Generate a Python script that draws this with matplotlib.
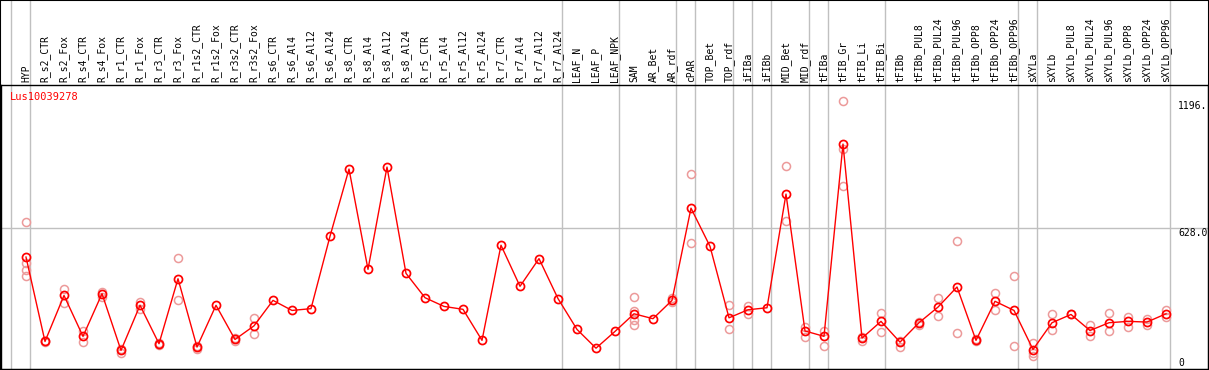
import numpy as np
import matplotlib
matplotlib.use("Agg")
import matplotlib.pyplot as plt
from matplotlib.patches import Rectangle

gene = "Lus10039278"

samples = ["HYP", "R_s2_CTR", "R_s2_Fox", "R_s4_CTR", "R_s4_Fox", "R_r1_CTR", "R_r1_Fox",
           "R_r3_CTR", "R_r3_Fox", "R_r1s2_CTR", "R_r1s2_Fox", "R_r3s2_CTR", "R_r3s2_Fox",
           "R_s6_CTR", "R_s6_Al4", "R_s6_Al12", "R_s6_Al24", "R_s8_CTR", "R_s8_Al4",
           "R_s8_Al12", "R_s8_Al24", "R_r5_CTR", "R_r5_Al4", "R_r5_Al12", "R_r5_Al24",
           "R_r7_CTR", "R_r7_Al4", "R_r7_Al12", "R_r7_Al24", "LEAF_N", "LEAF_P", "LEAF_NPK",
           "SAM", "AR_Bet", "AR_rdf", "cPAR", "TOP_Bet", "TOP_rdf", "iFIBa", "iFIBb",
           "MID_Bet", "MID_rdf", "tFIBa", "tFIB_Gr", "tFIB_Li", "tFIB_Bi", "tFIBb",
           "tFIBb_PUL8", "tFIBb_PUL24", "tFIBb_PUL96", "tFIBb_OPP8", "tFIBb_OPP24",
           "tFIBb_OPP96", "sXYLa", "sXYLb", "sXYLb_PUL8", "sXYLb_PUL24", "sXYLb_PUL96",
           "sXYLb_OPP8", "sXYLb_OPP24", "sXYLb_OPP96"]

means = [499, 121, 327, 144, 335, 81, 283, 111, 402, 96, 283, 130, 191,
         305, 260, 268, 592, 893, 444, 902, 426, 317, 278, 265, 126,
         552, 368, 492, 313, 175, 91, 166,
         245, 223, 305, 718, 547, 227, 263, 272, 781, 168, 144, 1005, 136, 211, 118,
         205, 275, 365, 126, 301, 260, 85, 205, 242, 170, 205, 211, 208, 245]

replicates = [[654, 474, 440, 413], [120, 125], [354, 295], [168, 118], [342, 320],
              [69, 88], [298, 268], [103, 114], [497, 308], [88, 100], [], [125, 135],
              [226, 156], [], [], [], [], [], [], [], [], [], [], [], [],
              [], [], [], [], [], [], [],
              [319, 257, 218, 193], [], [317, 300], [869, 564], [], [283, 175], [280, 242], [],
              [906, 659], [185, 141], [170, 100], [1196, 981, 815], [123, 140], [248, 163],
              [122, 96], [196, 210], [317, 236], [573, 157], [122, 130], [340, 260], [414, 102],
              [115, 70, 58], [242, 173], [245], [197, 144], [248, 170], [230, 185], [223, 193],
              [260, 230]]

yticks = [0, 628, 1196]
ytick_labels = ["0", "628.0", "1196."]
group_lines = [-1, 0, 28, 31, 34, 35, 37, 38, 39, 41, 42, 45, 52, 53, 60]

mono = "DejaVu Sans Mono"
fig = plt.figure(figsize=(12.09, 3.70), dpi=100)
ax = fig.add_axes([1 / 1209, 1.5 / 370, 1207 / 1209, 283.5 / 370])

x = np.arange(len(samples))
ax.set_xlim((1 - 26) / 19, (1208 - 26) / 19)
ax.set_ylim(0, 283 / (140 / 628))

for g in group_lines:
    ax.axvline(g + 0.21, 0, 1.31, color="#c0c0c0", lw=1, clip_on=False, zorder=0)
ax.axhline(628, color="#c0c0c0", lw=1, zorder=0)

for i, reps in enumerate(replicates):
    ax.plot([i] * len(reps), reps, "o", mfc="none", mec="#ec9a9a", ms=5.8, mew=1.1, zorder=2)
ax.plot(x, means, "-", color="red", lw=1, zorder=3)
ax.plot(x, means, "o", mfc="none", mec="red", ms=5.8, mew=1.25, zorder=4)

ax.set_xticks(x)
ax.set_xticklabels(samples, rotation=90, family=mono, fontsize=7)
ax.xaxis.tick_top()
ax.tick_params(axis="x", length=0, pad=2)
ax.set_yticks([])

ax.text(9 / 1207, 0.975, gene, transform=ax.transAxes, color="red", family=mono,
        fontsize=7.5, va="top", ha="left")
trans = ax.get_yaxis_transform()
for v, lab in zip(yticks, ytick_labels):
    if v == 0:
        ax.text(1177 / 1207, v, lab, transform=trans, family=mono, fontsize=7,
                va="bottom", ha="left")
    else:
        ax.text(1177 / 1207, v, lab, transform=trans, family=mono, fontsize=7,
                va="top", ha="left", clip_on=True)

for s in ax.spines.values():
    s.set_linewidth(1.0)
fig.patches.append(Rectangle((0, 0), 1, 1, transform=fig.transFigure, fill=False,
                             edgecolor="black", lw=1.5))

fig.savefig("out.png", dpi=100)
